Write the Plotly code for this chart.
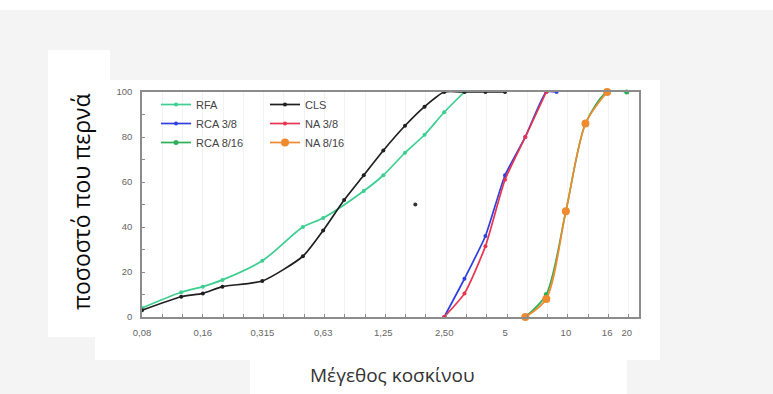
import math
import plotly.graph_objects as go

# Sieve sizes (mm) and percent passing for each material
rfa_size = [0.08, 0.125, 0.16, 0.2, 0.315, 0.5, 0.63, 1.0, 1.25, 1.6, 2.0, 2.5, 3.15]
rfa_pass = [4, 11, 13.5, 16.5, 25, 40, 44, 56, 63, 73, 81, 91, 100]

cls_size = [0.08, 0.125, 0.16, 0.2, 0.315, 0.5, 0.63, 0.8, 1.0, 1.25, 1.6, 2.0, 2.5, 3.15, 4, 5]
cls_pass = [3, 9, 10.5, 13.5, 16, 27, 38.5, 52, 63, 74, 85, 93.5, 100, 100, 100, 100]

rca38_size = [2.5, 3.15, 4, 5, 6.3, 8, 9]
rca38_pass = [0, 17, 36, 63, 80, 100, 100]

na38_size = [2.5, 3.15, 4, 5, 6.3, 8]
na38_pass = [0, 10.5, 31.5, 61, 80, 100]

rca816_size = [6.3, 8, 10, 12.5, 16, 20]
rca816_pass = [0, 10, 47, 86, 100, 100]

na816_size = [6.3, 8, 10, 12.5, 16]
na816_pass = [0, 8, 47, 86, 100]

extra_size = [1.8]
extra_pass = [50]

tick_vals = [0.08, 0.16, 0.315, 0.63, 1.25, 2.5, 5, 10, 16, 20]
tick_text = ["0,08", "0,16", "0,315", "0,63", "1,25", "2,50", "5", "10", "16", "20"]

X_MIN, X_MAX = 0.08, 23

# plot-area geometry in pixels
W, H = 773, 394
L, R, T, B = 142, 134, 92, 77
PW, PH = W - L - R, H - T - B


def px(x):
    return (x - L) / PW


def py(y):
    return (H - B - y) / PH


fig = go.Figure()


def add_series(name, xs, ys, color, legend, size=4, symbol="circle", width=1.7, smoothing=0.8):
    fig.add_trace(go.Scatter(
        x=xs, y=ys, name=name, mode="lines+markers",
        line=dict(color=color, width=width, shape="spline", smoothing=smoothing),
        marker=dict(color=color, size=size, symbol=symbol),
        legend=legend, cliponaxis=False,
    ))


add_series("RFA", rfa_size, rfa_pass, "#3ccf91", "legend")
add_series("CLS", cls_size, cls_pass, "#1f1f1f", "legend2", smoothing=0.6)
add_series("RCA 3/8", rca38_size, rca38_pass, "#2f3fe0", "legend", smoothing=0.5)
add_series("NA 3/8", na38_size, na38_pass, "#e8344e", "legend2", smoothing=0.6)
add_series("RCA 8/16", rca816_size, rca816_pass, "#2bb05a", "legend", size=5)
add_series("NA 8/16", na816_size, na816_pass, "#f08a2e", "legend2", size=8)

fig.add_trace(go.Scatter(
    x=extra_size, y=extra_pass, mode="markers", showlegend=False,
    marker=dict(color="#333333", size=4),
))

# companion axis (log2 units) carrying the fine tick marks and grid
fig.add_trace(go.Scatter(x=[], y=[], xaxis="x2", showlegend=False, hoverinfo="skip"))

shapes = [
    dict(type="rect", xref="paper", yref="paper", x0=px(0), x1=px(W), y0=py(0), y1=py(10),
         fillcolor="#ffffff", line_width=0, layer="below"),
    dict(type="rect", xref="paper", yref="paper", x0=px(48), x1=px(110), y0=py(337), y1=py(50),
         fillcolor="#ffffff", line_width=0, layer="below"),
    dict(type="rect", xref="paper", yref="paper", x0=px(95), x1=px(660), y0=py(360), y1=py(80),
         fillcolor="#ffffff", line_width=0, layer="below"),
    dict(type="rect", xref="paper", yref="paper", x0=px(250), x1=px(627), y0=py(394), y1=py(355),
         fillcolor="#ffffff", line_width=0, layer="below"),
]

annotations = [
    dict(text="ποσοστό που περνά", xref="paper", yref="paper", x=px(81), y=py(202),
         textangle=-90, showarrow=False, xanchor="center", yanchor="middle",
         font=dict(family="Open Sans, Liberation Sans, sans-serif", size=23, color="#0a0a0a")),
    dict(text="Μέγεθος κοσκίνου", xref="paper", yref="paper", x=px(392), y=py(375),
         showarrow=False, xanchor="center", yanchor="middle",
         font=dict(family="Open Sans, Liberation Sans, sans-serif", size=19, color="#333333")),
]

axis_font = dict(family="Liberation Sans, Arial, sans-serif", size=9.5, color="#666666")
legend_common = dict(
    xanchor="left", yanchor="top", bgcolor="rgba(0,0,0,0)", tracegroupgap=0,
    font=dict(family="Liberation Sans, Arial, sans-serif", size=11, color="#444444"),
)

fig.update_layout(
    width=W, height=H,
    margin=dict(l=L, r=R, t=T, b=B, pad=0),
    paper_bgcolor="#f4f4f4",
    plot_bgcolor="#ffffff",
    shapes=shapes,
    annotations=annotations,
    xaxis=dict(
        type="log", range=[math.log10(X_MIN), math.log10(X_MAX)],
        tickvals=tick_vals, ticktext=tick_text, tickfont=axis_font,
        ticks="", ticklabelstandoff=6, showgrid=False, zeroline=False,
        showline=True, mirror=True, linecolor="#8c8c8c", linewidth=1.5,
    ),
    xaxis2=dict(
        overlaying="x", anchor="y", side="bottom",
        range=[math.log2(X_MIN), math.log2(X_MAX)],
        tick0=math.log2(X_MIN), dtick=1 / 3,
        ticks="inside", ticklen=3, tickcolor="#8c8c8c",
        showticklabels=False, showgrid=True, gridcolor="#f2f2f2", gridwidth=1,
        zeroline=False, showline=False,
    ),
    yaxis=dict(
        range=[0, 100], dtick=20, tickfont=axis_font,
        ticks="inside", ticklen=3, tickcolor="#8c8c8c", ticklabelstandoff=6,
        minor=dict(dtick=10, ticks="inside", ticklen=3, tickcolor="#8c8c8c"),
        showgrid=False, zeroline=False,
        showline=True, mirror=True, linecolor="#8c8c8c", linewidth=1.5,
    ),
    legend=dict(x=px(156), y=py(90), **legend_common),
    legend2=dict(x=px(265), y=py(90), **legend_common),
)

fig.write_html("out.html")
